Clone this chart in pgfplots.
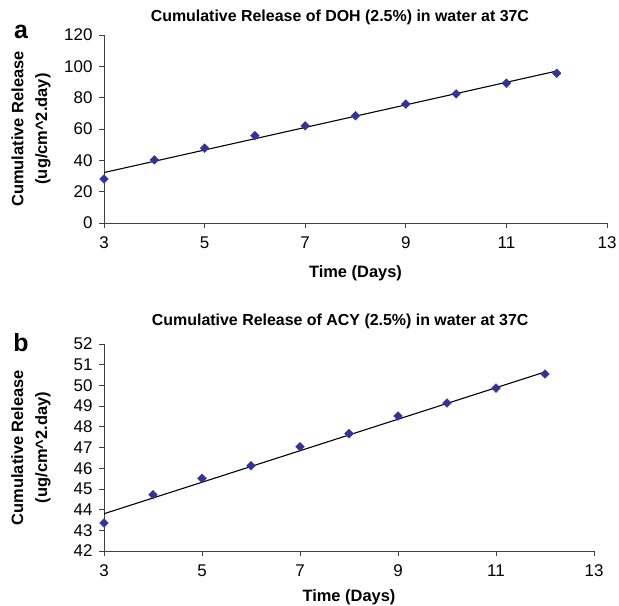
\documentclass[border=0pt]{standalone}
\usepackage{fontspec}
\setmainfont{Liberation Sans}
\usepackage{pgfplots}
\pgfplotsset{compat=1.18}
\definecolor{mk}{HTML}{333399}
\pgfplotsset{rel/.style={scale only axis, axis lines*=left, tick align=outside, major tick length=5bp,
  xmin=3, xmax=13, xtick={3,5,...,13}, clip=false,
  tick label style={font=\fontsize{17}{19}\selectfont}, /pgf/number format/assume math mode=true,
  yticklabel style={xshift=-3bp}, xticklabel style={yshift=-5bp},
  label style={font=\bfseries\fontsize{16.5}{24}\selectfont},
  title style={font=\bfseries\fontsize{16}{19}\selectfont, anchor=center},
  axis line style={black!75, line width=0.8bp}, tick style={black!75, line width=0.8bp},
  ylabel={Cumulative Release\\(ug/cm\textasciicircum 2.day)}, xlabel={Time (Days)}},
  pts/.style={draw=none, mark=square*, mark size=3.1bp, mark options={fill=mk, draw=mk, rotate=45}},
  fit/.style={black, line width=1.1bp}}

\begin{document}
\begin{tikzpicture}
\path[use as bounding box] (0,0) rectangle (619bp,-606bp);
\begin{axis}[rel, at={(104bp,-223bp)}, anchor=south west, width=503bp, height=188bp,
  ymin=0, ymax=120, ytick distance=20,
  title={Cumulative Release of DOH (2.5\%) in water at 37C},
  title style={at={(axis description cs:0.469,1.06)}},
  ylabel style={align=center, at={(axis description cs:-0.099,0.5)}, anchor=south},
  xlabel style={at={(axis description cs:0.5,-0.265)}, anchor=center}]
\addplot[pts] coordinates {(3,28.1) (4,40.3) (5,47.8) (6,55.8) (7,62.0) (8,68.5) (9,75.9) (10,82.4) (11,89.2) (12,95.6)};
\addplot[fit] coordinates {(3,32.2) (12,97.0)};
\end{axis}
\begin{axis}[rel, at={(104bp,-551bp)}, anchor=south west, width=490bp, height=207bp,
  ymin=42, ymax=52, ytick distance=1,
  title={Cumulative Release of ACY (2.5\%) in water at 37C},
  title style={at={(axis description cs:0.482,1.08)}},
  ylabel style={align=center, at={(axis description cs:-0.102,0.5)}, anchor=south},
  xlabel style={at={(axis description cs:0.5,-0.222)}, anchor=center}]
\addplot[pts] coordinates {(3,43.35) (4,44.72) (5,45.51) (6,46.12) (7,47.04) (8,47.67) (9,48.52) (10,49.15) (11,49.87) (12,50.55)};
\addplot[fit] coordinates {(3,43.80) (12,50.65)};
\end{axis}
\node[font=\bfseries\fontsize{25}{25}\selectfont, anchor=base] at (21bp,-38bp) {a};
\node[font=\bfseries\fontsize{25}{25}\selectfont, anchor=base] at (21bp,-351bp) {b};
\end{tikzpicture}
\end{document}
